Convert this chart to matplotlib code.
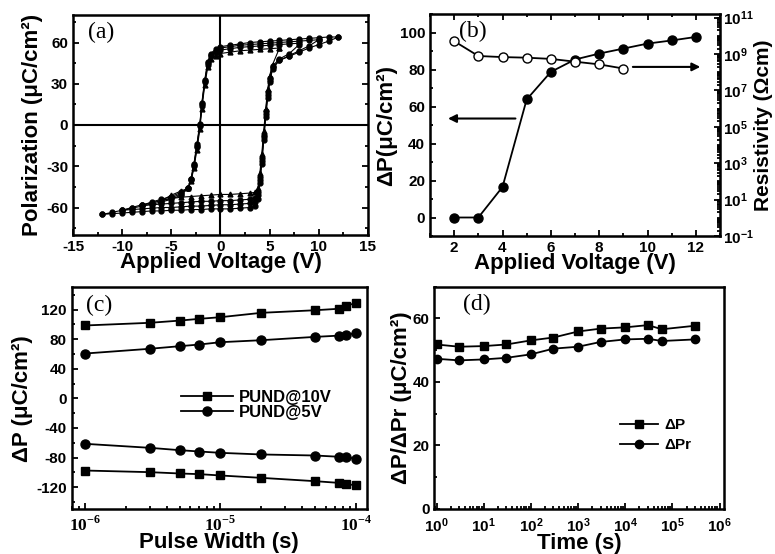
import numpy as np
import matplotlib
matplotlib.use('Agg')
from matplotlib import pyplot as plt
from matplotlib.ticker import MultipleLocator, FixedLocator, LogLocator, NullFormatter

# ---- (a) hysteresis loops ----
# voltage points of the descending (dn) and ascending (up) branches
dn_v = [12, 11, 10, 9, 8, 7, 6, 5, 4, 3, 2, 1, 0, -0.5, -1.0, -1.3, -1.6, -1.9, -2.1,
        -2.4, -2.7, -3.0, -3.3, -4, -5, -6, -7, -8, -9, -10, -11, -12]
up_v = [-12, -11, -10, -9, -8, -7, -6, -5, -4, -3, -2, -1, 0, 1, 2, 3, 3.5, 3.8, 4.0,
        4.2, 4.4, 4.6, 4.8, 5.0, 5.3, 6, 7, 8, 9, 10, 11, 12]
loop_vmax = [12, 10, 8, 6]
loop12_dn = [64, 64, 63.5, 63, 62.5, 62, 61.5, 61, 60.5, 60, 59, 58, 57,
             55, 52, 46, 33, 16, 1, -14, -28, -39, -46,
             -51, -54, -56, -57.5, -59, -60.5, -62, -63.5, -65]
loop12_up = [-65, -64.5, -64, -63.5, -63, -62.5, -62.5, -62, -62, -61.5, -61.5, -61, -61,
             -61, -60.5, -60, -59, -54, -42, -28, -11, 6, 20, 31, 41,
             47, 50, 53, 56, 58.5, 61, 64]
loop10_dn = [62, 61.5, 61, 60.5, 60, 59.5, 59, 58.5, 58, 57, 56,
             54, 51, 45, 32, 15, 0, -15, -29, -39, -46,
             -50, -53, -55, -56.5, -58, -60, -62]
loop10_up = [-62, -61.5, -61, -60.5, -60, -60, -59.5, -59, -59, -58.5, -58,
             -58, -57.5, -57, -56, -51, -40, -26, -9, 8, 22, 33, 42,
             47, 50.5, 54, 57.5, 62]
loop8_dn = [59.5, 59, 58.5, 58, 57.5, 57, 56.5, 55.5, 54.5,
            53, 50, 44, 31, 14, -1, -16, -30, -40, -46,
            -49, -52, -54, -56, -58.5]
loop8_up = [-58.5, -58, -57.5, -57, -56.5, -56, -55.5, -55.5, -55,
            -55, -54.5, -54, -53, -49, -38, -24, -7, 10, 24, 34, 43,
            48, 52, 58.5]
loop6_dn = [56, 55.5, 55, 54.5, 54, 53, 52,
            50.5, 48, 42, 29, 12, -3, -18, -31, -41, -46,
            -48, -51, -55]
loop6_up = [-55, -53.5, -52.5, -52, -51.5, -51, -50.5,
            -50.5, -50, -49.5, -49, -46, -35, -21, -4, 12, 26, 36, 44,
            56]
loops_p = [(loop12_dn, loop12_up), (loop10_dn, loop10_up),
           (loop8_dn, loop8_up), (loop6_dn, loop6_up)]
loop_markers = ['o', 'o', 'o', '^']

# ---- (b) delta P and resistivity vs applied voltage ----
volt_b = [2, 3, 4, 5, 6, 7, 8, 9, 10, 11, 12]
dp_b = [0, 0, 16.5, 63.8, 78.7, 85.4, 88.6, 91.3, 94, 95.7, 97.6]
volt_rho = [2, 3, 4, 5, 6, 7, 8, 9]
rho_b = [5.1e9, 7.8e8, 6.8e8, 6.3e8, 5.4e8, 3.8e8, 2.7e8, 1.6e8]

# ---- (c) delta P vs pulse width ----
pw = [1e-6, 3e-6, 5e-6, 7e-6, 1e-5, 2e-5, 5e-5, 7.5e-5, 8.5e-5, 1e-4]
pund10_pos = [98.4, 102, 105, 107.4, 109.6, 115.5, 119, 121, 125.4, 128.5]
pund10_neg = [-97.6, -99.8, -101.6, -102.5, -104.3, -107.5, -112, -114.3, -115.6, -117.8]
pund5_pos = [60.5, 66.9, 70.4, 72.7, 75.8, 78.5, 83, 84.7, 86, 87.9]
pund5_neg = [-61.5, -66.9, -70.1, -71.9, -73.7, -75.9, -77.3, -79, -79.5, -81.8]

# ---- (d) retention ----
t_d = [1, 3, 10, 30, 100, 300, 1000, 3000, 1e4, 3e4, 6e4, 3e5]
dp_d = [51.8, 51.1, 51.3, 51.8, 53.1, 54, 55.9, 56.8, 57.2, 57.9, 56.6, 57.7]
dpr_d = [47.3, 46.8, 47.1, 47.6, 48.7, 50.5, 51.1, 52.6, 53.4, 53.6, 52.9, 53.4]

plt.rcParams['font.family'] = ['Liberation Sans', 'DejaVu Sans']
plt.rcParams['font.weight'] = 'bold'
plt.rcParams['axes.unicode_minus'] = False
plt.rcParams['mathtext.fontset'] = 'custom'
plt.rcParams['mathtext.rm'] = 'Liberation Serif:bold'
plt.rcParams['mathtext.sf'] = 'Liberation Sans:bold'

W, H = 775, 554
fig = plt.figure(figsize=(W / 100, H / 100), dpi=100)


def box(l, t, r, b):
    return [l / W, 1 - b / H, (r - l) / W, (b - t) / H]


def style(ax, top=False, right=False):
    for s in ax.spines.values():
        s.set_linewidth(1.8)
    ax.tick_params(which='both', direction='in', width=1.3, top=top, right=right,
                   labelsize=11)
    ax.tick_params(which='major', length=4)
    ax.tick_params(which='minor', length=2.5)


serif = ['Liberation Serif', 'DejaVu Serif']
lab_kw = dict(fontsize=16, fontweight='bold')

# (a)
ax_a = fig.add_axes(box(73, 15, 368, 235))
style(ax_a, right=True)
ax_a.axhline(0, color='k', lw=1.5)
ax_a.axvline(0, color='k', lw=1.5)
for vmax, (pdn, pup), mk in zip(loop_vmax, loops_p, loop_markers):
    vdn = [v for v in dn_v if abs(v) <= vmax]
    vup = [v for v in up_v if abs(v) <= vmax]
    ax_a.plot(vdn + vup, pdn + pup, color='k', lw=0.8, marker=mk, ms=3.5)
ax_a.set_xlim(-15, 15)
ax_a.set_ylim(-80, 80)
ax_a.xaxis.set_major_locator(MultipleLocator(5))
ax_a.xaxis.set_minor_locator(MultipleLocator(2.5))
ax_a.yaxis.set_major_locator(FixedLocator([-60, -30, 0, 30, 60]))
ax_a.yaxis.set_minor_locator(MultipleLocator(15))
ax_a.set_xlabel('Applied Voltage (V)', labelpad=-1, **lab_kw)
ax_a.set_ylabel('Polarization (μC/cm²)', labelpad=2, **lab_kw)
ax_a.text(0.05, 0.92, '(a)', transform=ax_a.transAxes, fontsize=17,
          family=serif, fontweight='normal', va='center')

# (b)
ax_b = fig.add_axes(box(430, 14, 720, 236))
style(ax_b, top=True)
ax_b.plot(volt_b, dp_b, color='k', lw=1.3, marker='o', ms=6.5)
ax_b.set_xlim(1, 13)
ax_b.set_ylim(-10, 110)
ax_b.xaxis.set_major_locator(MultipleLocator(2))
ax_b.xaxis.set_minor_locator(MultipleLocator(1))
ax_b.yaxis.set_major_locator(MultipleLocator(20))
ax_b.yaxis.set_minor_locator(MultipleLocator(10))
ax_b.set_xlabel('Applied Voltage (V)', labelpad=-1, **lab_kw)
ax_b.set_ylabel('ΔP(μC/cm²)', labelpad=2, **lab_kw)
ax_b.text(0.1, 0.92, '(b)', transform=ax_b.transAxes, fontsize=17,
          family=serif, fontweight='normal', va='center')
ax_b.annotate('', xy=(1.63, 53.5), xytext=(4.65, 53.5),
              arrowprops=dict(arrowstyle='-|>', color='k', lw=1.5, mutation_scale=12))
ax_b.annotate('', xy=(12.3, 81.4), xytext=(9.28, 81.4),
              arrowprops=dict(arrowstyle='-|>', color='k', lw=1.5, mutation_scale=12))
ax_r = ax_b.twinx()
ax_r.plot(volt_rho, rho_b, color='k', lw=1.3, marker='o', ms=6.5, mfc='white')
ax_r.set_yscale('log')
ax_r.set_ylim(1e-1, 10 ** 11.2)
r_ticks = [1e-1, 1e1, 1e3, 1e5, 1e7, 1e9, 1e11]
ax_r.yaxis.set_major_locator(FixedLocator(r_ticks))
ax_r.set_yticklabels([r'$\mathsf{10^{%d}}$' % e for e in [-1, 1, 3, 5, 7, 9, 11]])
ax_r.yaxis.set_minor_locator(LogLocator(base=10, subs=np.arange(1, 10), numticks=40))
ax_r.yaxis.set_minor_formatter(NullFormatter())
ax_r.tick_params(which='both', direction='in', width=1.3, labelsize=11, pad=2)
ax_r.tick_params(which='major', length=4)
ax_r.tick_params(which='minor', length=2)
ax_r.set_ylabel('Resistivity (Ωcm)', labelpad=0, fontsize=15, fontweight='bold')

# (c)
ax_c = fig.add_axes(box(71.7, 287.3, 366.7, 509.3))
style(ax_c)
ax_c.set_xscale('log')
ax_c.plot(pw, pund10_pos, color='k', lw=1.3, marker='s', ms=6, label='PUND@10V')
ax_c.plot(pw, pund5_pos, color='k', lw=1.3, marker='o', ms=6.5, label='PUND@5V')
ax_c.plot(pw, pund5_neg, color='k', lw=1.3, marker='o', ms=6.5)
ax_c.plot(pw, pund10_neg, color='k', lw=1.3, marker='s', ms=6)
ax_c.set_xlim(10 ** -6.098, 10 ** -3.92)
ax_c.set_ylim(-150, 150)
ax_c.xaxis.set_major_locator(FixedLocator([1e-6, 1e-5, 1e-4]))
ax_c.set_xticklabels([r'$10^{-6}$', r'$10^{-5}$', r'$10^{-4}$'])
ax_c.tick_params(axis='x', which='major', labelsize=12.5)
ax_c.xaxis.set_minor_locator(LogLocator(base=10, subs=np.arange(2, 10), numticks=20))
ax_c.xaxis.set_minor_formatter(NullFormatter())
ax_c.yaxis.set_major_locator(MultipleLocator(40))
ax_c.yaxis.set_minor_locator(MultipleLocator(20))
ax_c.set_xlabel('Pulse Width (s)', labelpad=-1, **lab_kw)
ax_c.set_ylabel('ΔP (μC/cm²)', labelpad=2, **lab_kw)
ax_c.text(0.05, 0.92, '(c)', transform=ax_c.transAxes, fontsize=17,
          family=serif, fontweight='normal', va='center')
ax_c.legend(loc='center left', bbox_to_anchor=(0.37, 0.47), frameon=False,
            fontsize=12, handlelength=3.1, handletextpad=0.4, labelspacing=0.0,
            borderpad=0, borderaxespad=0)

# (d)
ax_d = fig.add_axes(box(434.3, 286.7, 724.3, 509))
style(ax_d)
ax_d.set_xscale('log')
ax_d.plot(t_d, dp_d, color='k', lw=1.3, marker='s', ms=5.5, label='ΔP')
ax_d.plot(t_d, dpr_d, color='k', lw=1.3, marker='o', ms=6, label='ΔPr')
ax_d.set_xlim(10 ** -0.05, 10 ** 6.1)
ax_d.set_ylim(0, 70)
d_ticks = [1, 1e1, 1e2, 1e3, 1e4, 1e5, 1e6]
ax_d.xaxis.set_major_locator(FixedLocator(d_ticks))
ax_d.set_xticklabels([r'$\mathsf{10^{%d}}$' % e for e in range(7)])
ax_d.tick_params(axis='x', which='major', pad=5)
ax_d.xaxis.set_minor_locator(LogLocator(base=10, subs=np.arange(2, 10), numticks=20))
ax_d.xaxis.set_minor_formatter(NullFormatter())
ax_d.yaxis.set_major_locator(MultipleLocator(20))
ax_d.yaxis.set_minor_locator(MultipleLocator(10))
ax_d.set_xlabel('Time (s)', labelpad=-1, **lab_kw)
ax_d.set_ylabel('ΔP/ΔPr (μC/cm²)', labelpad=0, **lab_kw)
ax_d.text(0.1, 0.92, '(d)', transform=ax_d.transAxes, fontsize=17,
          family=serif, fontweight='normal', va='center')
ax_d.legend(loc='center left', bbox_to_anchor=(0.64, 0.333), frameon=False,
            fontsize=11, handlelength=2.5, handletextpad=0.4, labelspacing=0.4,
            borderpad=0, borderaxespad=0)

fig.savefig('out.png', dpi=100)
